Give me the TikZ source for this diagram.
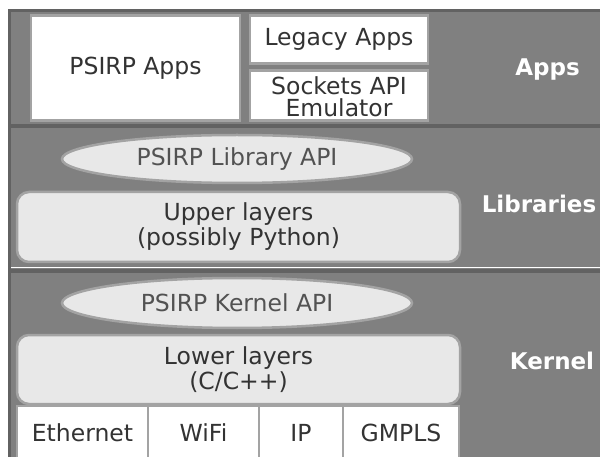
\documentclass[tikz,border=0pt]{standalone}
\usepackage{fontspec}
\setmainfont{DejaVu Sans}
\usetikzlibrary{shapes.geometric}
\definecolor{bandgray}{HTML}{808080}
\definecolor{darkline}{HTML}{626262}
\definecolor{boxline}{HTML}{A3A3A3}
\definecolor{boxfill}{HTML}{E8E8E8}
\definecolor{txt}{HTML}{333333}
\tikzset{
  txtfont/.style={font=\fontsize{23.5}{22}\selectfont},
  whitebox/.style={draw=boxline, line width=2.5pt, fill=white, inner sep=0pt, align=center, text=txt, txtfont},
  layerbox/.style={draw=boxline, line width=2.5pt, fill=boxfill, rounded corners=12pt, inner sep=0pt,
    align=center, text=txt, font=\fontsize{23.5}{25}\selectfont},
  apibox/.style={ellipse, draw=boxline, line width=2.5pt, fill=boxfill, inner sep=0pt, text=txt!85!white, txtfont},
  bandlabel/.style={text=white, font=\fontsize{23}{24}\selectfont\bfseries, inner sep=0pt},
  plaintext/.style={text=txt, txtfont, inner sep=0pt, align=center}
}
\begin{document}
\begin{tikzpicture}[x=1pt,y=-1pt]
\useasboundingbox (0,0) rectangle (600,457);
\clip (0,0) rectangle (600,457);
% bands
\fill[bandgray] (10,10) rectangle (610,470);
\draw[darkline, line width=3pt] (9.5,470) -- (9.5,10.5) -- (610,10.5);
\draw[darkline, line width=3.5pt] (11,126) -- (610,126);
\draw[white, line width=1.2pt] (11,267.5) -- (610,267.5);
\draw[darkline, line width=4pt] (11,271) -- (610,271);
% Apps layer
\node[whitebox, minimum width=209pt, minimum height=105pt] (psirpapps) at (135.5,68) {PSIRP Apps};
\node[whitebox, minimum width=178pt, minimum height=48pt] (legacy) at (339,39.5) {Legacy Apps};
\node[whitebox, minimum width=178pt, minimum height=50pt] (sockets) at (339,95.5) {};
\node[plaintext] (socketstext) at (339,97) {Sockets API\\Emulator};
\node[bandlabel] (appslabel) at (547.5,70) {Apps};
% Libraries layer
\node[apibox, minimum width=350pt, minimum height=48pt] (libapi) at (237,159) {PSIRP Library API};
\node[layerbox, minimum width=443pt, minimum height=70pt] (upper) at (238.5,227) {Upper layers\\(possibly Python)};
\node[bandlabel] (liblabel) at (539,204) {Libraries};
% Kernel layer
\node[apibox, minimum width=350pt, minimum height=50pt] (kernapi) at (237,303) {PSIRP Kernel API};
\node[layerbox, minimum width=443pt, minimum height=69pt] (lower) at (238.5,369.5) {Lower layers\\(C/C++)};
\node[bandlabel] (kernlabel) at (552,361) {Kernel};
% link layers
\node[whitebox, minimum width=131pt, minimum height=64pt] (eth) at (82.5,438) {};
\node[whitebox, minimum width=111pt, minimum height=64pt] (wifi) at (203.5,438) {};
\node[whitebox, minimum width=84pt, minimum height=64pt] (ip) at (301,438) {};
\node[whitebox, minimum width=116pt, minimum height=64pt] (gmpls) at (401,438) {};
\node[plaintext] (ethtext) at (82.5,433) {Ethernet};
\node[plaintext] (wifitext) at (203.5,433) {WiFi};
\node[plaintext] (iptext) at (301,433) {IP};
\node[plaintext] (gmplstext) at (401,433) {GMPLS};
\end{tikzpicture}
\end{document}
